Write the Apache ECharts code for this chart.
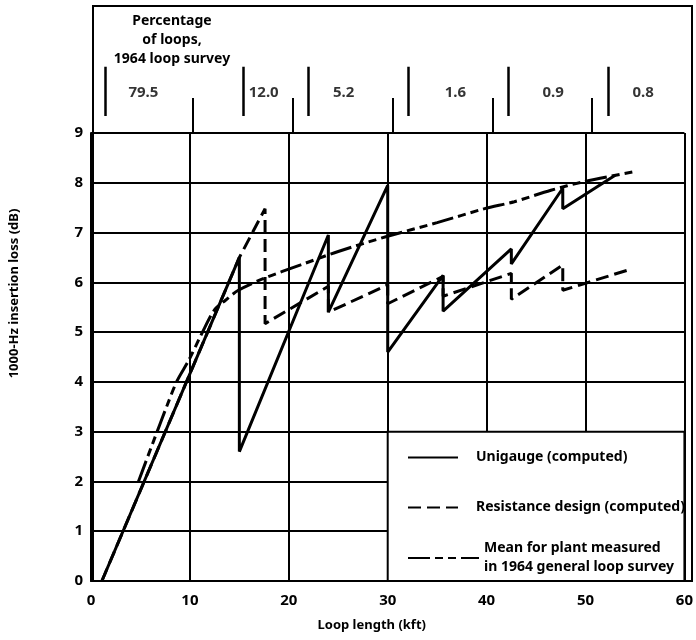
<!DOCTYPE html>
<html>
<head>
<meta charset="utf-8">
<script src="https://cdn.jsdelivr.net/npm/echarts@6/dist/echarts.min.js"></script>
<style>
  html, body { margin: 0; padding: 0; background: #fff; }
  #chart { width: 696px; height: 640px; }
</style>
</head>
<body>
<div id="chart"></div>
<script>
// curves: [loop length kft, loss dB]
const unigauge = [[1.1, 0], [15, 6.5], [15, 2.6], [24, 6.95], [24, 5.4], [30, 7.95], [30, 4.6],
  [35.6, 6.14], [35.6, 5.42], [42.5, 6.67], [42.5, 6.37], [47.7, 7.89], [47.7, 7.48], [53, 8.15]]
const resistance = [[1.1, 0], [15, 6.5], [17.6, 7.48], [17.6, 5.17], [24, 5.92], [24, 5.4], [30, 5.95],
  [30, 5.57], [35.6, 6.12], [35.6, 5.72], [42.5, 6.18], [42.5, 5.66], [47.7, 6.35], [47.7, 5.84], [54.5, 6.26]]
const mean1964 = [[4.8, 2.0], [6.4, 2.85], [7.7, 3.53], [8.7, 4.02], [9.9, 4.44], [11.2, 4.97], [12.5, 5.45],
  [13.6, 5.64], [14.9, 5.84], [17.5, 6.08], [21.2, 6.35], [25, 6.62], [29.9, 6.92], [35, 7.2], [39.8, 7.48],
  [42.8, 7.62], [46.5, 7.85], [49.8, 8.02], [54.8, 8.22]]

// percentage-of-loops band above the plot
const bandEdges = [1.2, 15, 21.6, 31.6, 41.6, 51.6]
const bandLabels = ['79.5', '12.0', '5.2', '1.6', '0.9', '0.8']
const bandLabelX = [5.05, 17.1, 25.1, 36.3, 46.1, 55.1]
const gridXs = [10, 20, 30, 40, 50]

const seriesNames = ['Unigauge (computed)', 'Resistance design (computed)', 'Mean for plant measured\nin 1964 general loop survey']

const FONT = 'Noto Sans'
const txt = { color: '#000', fontFamily: FONT, fontWeight: 'bold', fontSize: 14 }
const big = Object.assign({}, txt, { fontSize: 15 })

const chart = echarts.init(document.getElementById('chart'))

chart.setOption({
  animation: false,
  title: {
    text: 'Percentage\nof loops,\n1964 loop survey',
    left: 172,
    top: 12,
    padding: 0,
    textAlign: 'center',
    textStyle: Object.assign({}, txt, { lineHeight: 19 })
  },
  grid: [
    // main plot
    { left: 91, right: 4, top: 133, bottom: 59 },
    // whole frame incl. band
    { left: 91, right: 4, top: 6, bottom: 59, show: true, borderColor: '#000', borderWidth: 2, backgroundColor: 'transparent' }
  ],
  legend: [0, 1, 2].map(i => ({
    data: [seriesNames[i]],
    left: 407,
    top: [448, 498, 539][i],
    padding: 0,
    itemWidth: i === 2 ? 71 : 50,
    itemHeight: 14,
    selectedMode: false,
    itemStyle: { opacity: 0 },
    textStyle: Object.assign({}, txt, { lineHeight: 19, padding: [0, 0, 0, i === 2 ? 0 : 13] })
  })),
  xAxis: [
    {
      gridIndex: 0, type: 'value', min: 0, max: 60, interval: 10,
      name: 'Loop length (kft)', nameLocation: 'middle', nameGap: 38,
      nameTextStyle: Object.assign({}, txt, { fontSize: 13, padding: [0, 32, 0, 0] }),
      axisLine: { lineStyle: { color: '#000', width: 2 } },
      axisTick: { show: false },
      axisLabel: Object.assign({}, big, { margin: 12 }),
      splitLine: { lineStyle: { color: '#000', width: 2 } }
    },
    {
      gridIndex: 1, type: 'value', min: 0, max: 60,
      axisLine: { show: false }, axisTick: { show: false }, axisLabel: { show: false }, splitLine: { show: false }
    }
  ],
  yAxis: [
    {
      gridIndex: 0, type: 'value', min: 0, max: 9, interval: 1,
      axisLine: { show: true, lineStyle: { color: '#000', width: 2 } },
      axisTick: { show: false },
      axisLabel: Object.assign({}, big, { margin: 8 }),
      splitLine: { lineStyle: { color: '#000', width: 2 } }
    },
    {
      gridIndex: 1, type: 'value', min: 0, max: 11.55,
      name: '1000-Hz insertion loss (dB)', nameLocation: 'middle', nameGap: 72,
      nameTextStyle: Object.assign({}, txt, { fontSize: 13 }),
      axisLine: { show: false }, axisTick: { show: false }, axisLabel: { show: false }, splitLine: { show: false }
    }
  ],
  series: [
    {
      name: seriesNames[0], type: 'line', data: unigauge, symbol: 'none',
      lineStyle: { color: '#000', width: 3 }, itemStyle: { color: '#000' }, z: 5
    },
    {
      name: seriesNames[1], type: 'line', data: resistance, symbol: 'none',
      lineStyle: { color: '#000', width: 3, type: [13, 6] }, itemStyle: { color: '#000' }, z: 4
    },
    {
      name: seriesNames[2], type: 'line', data: mean1964, symbol: 'none', smooth: 0.3,
      lineStyle: { color: '#000', width: 3, type: [22, 5, 8, 5, 8, 5] }, itemStyle: { color: '#000' }, z: 4
    },
    {
      // white legend box in the lower right
      type: 'line', data: [], silent: true, z: 3,
      markArea: {
        silent: true,
        itemStyle: { color: '#fff', borderColor: '#000', borderWidth: 2 },
        data: [[{ coord: [30, 0] }, { coord: [60, 3] }]]
      }
    },
    {
      // percentage band
      type: 'scatter', xAxisIndex: 1, yAxisIndex: 1, symbolSize: 0, silent: true,
      data: bandLabels.map((l, i) => [bandLabelX[i], 9.8, l]),
      label: Object.assign({ show: true, position: 'inside', formatter: p => p.value[2] }, big),
      markLine: {
        silent: true, symbol: 'none', label: { show: false },
        lineStyle: { color: '#000', type: 'solid', width: 2.5 },
        data: bandEdges.map(x => [{ coord: [x, 9.34] }, { coord: [x, 10.33] }])
          .concat(gridXs.map(x => [{ coord: [x, 9], lineStyle: { width: 2 } }, { coord: [x, 9.7] }]))
      }
    }
  ]
})
</script>
</body>
</html>
